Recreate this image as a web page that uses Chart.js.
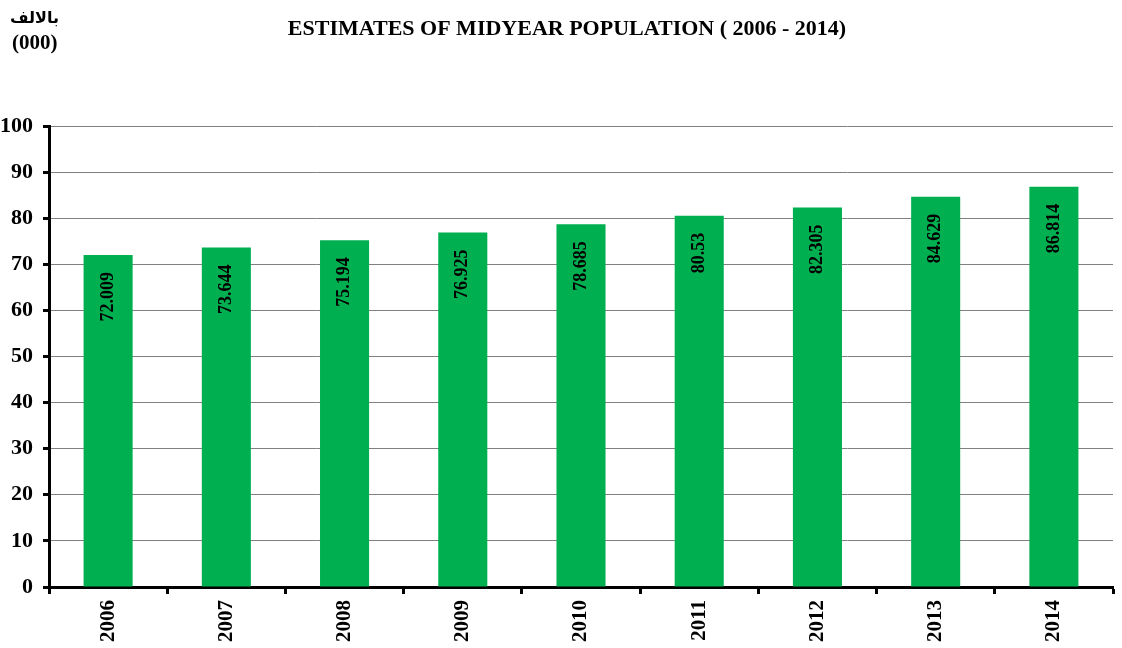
<!DOCTYPE html>
<html>
<head>
<meta charset="utf-8">
<script src="https://cdn.jsdelivr.net/npm/chart.js@4/dist/chart.umd.min.js"></script>
<style>
html,body{margin:0;padding:0;background:#fff;}
#wrap{position:relative;width:1122px;height:648px;}
</style>
</head>
<body>
<div id="wrap"><canvas id="c" width="1122" height="648"></canvas></div>
<script>
const years = ['2006','2007','2008','2009','2010','2011','2012','2013','2014'];
const population = [72.009, 73.644, 75.194, 76.925, 78.685, 80.53, 82.305, 84.629, 86.814];
const yTicks = [0,10,20,30,40,50,60,70,80,90,100];
const titleText = 'ESTIMATES OF MIDYEAR POPULATION ( 2006 - 2014)';
const unitArabic = 'بالالف';
const unitText = '(000)';

const SERIF = "'Liberation Serif', 'Times New Roman', 'DejaVu Serif', serif";

const textPlugin = {
  id: 'texts',
  afterDraw(chart) {
    const ctx = chart.ctx;
    ctx.save();
    ctx.fillStyle = '#000';
    ctx.font = 'bold 22px ' + SERIF;
    ctx.textAlign = 'center';
    ctx.textBaseline = 'middle';
    ctx.fillText(titleText, 567, 29);
    ctx.font = 'bold 16px ' + SERIF + ", 'DejaVu Sans'";
    ctx.textAlign = 'left';
    ctx.fillText(unitArabic, 10, 19);
    ctx.font = 'bold 21px ' + SERIF;
    ctx.fillText(unitText, 12, 44);
    ctx.restore();
  }
};

const barLabels = {
  id: 'barLabels',
  afterDatasetsDraw(chart) {
    const ctx = chart.ctx;
    const meta = chart.getDatasetMeta(0);
    ctx.save();
    ctx.fillStyle = '#000';
    ctx.font = 'bold 18px ' + SERIF;
    ctx.textAlign = 'right';
    ctx.textBaseline = 'middle';
    meta.data.forEach((bar, i) => {
      ctx.save();
      ctx.translate(bar.x, bar.y + 17);
      ctx.rotate(-Math.PI / 2);
      ctx.fillText(String(population[i]), 0, 0);
      ctx.restore();
    });
    ctx.restore();
  }
};

new Chart(document.getElementById('c'), {
  type: 'bar',
  data: {
    labels: years,
    datasets: [{
      data: population,
      backgroundColor: '#00B050',
      borderWidth: 0,
      barPercentage: 0.415,
      categoryPercentage: 1
    }]
  },
  options: {
    responsive: false,
    animation: false,
    layout: { padding: { top: 126, right: 9, left: 0, bottom: 0 } },
    plugins: { legend: { display: false }, title: { display: false }, tooltip: { enabled: false } },
    scales: {
      x: {
        offset: true,
        grid: { offset: true, drawOnChartArea: false, drawTicks: true, tickLength: 7, tickColor: '#000', tickWidth: 3 },
        border: { color: '#000', width: 3 },
        ticks: { minRotation: 90, maxRotation: 90, color: '#000', padding: 6, font: { family: SERIF, size: 21, weight: 'bold' } },
        afterFit(s) { s.height = 61; }
      },
      y: {
        min: 0, max: 100,
        afterBuildTicks(s) { s.ticks = yTicks.map(v => ({ value: v })); },
        grid: { color: '#808080', lineWidth: 1, tickLength: 6, tickColor: '#000', tickWidth: 3 },
        border: { color: '#000', width: 3 },
        ticks: { color: '#000', padding: 10, font: { family: SERIF, size: 22, weight: 'bold' } },
        afterFit(s) { s.width = 49; }
      }
    }
  },
  plugins: [textPlugin, barLabels]
});
</script>
</body>
</html>
